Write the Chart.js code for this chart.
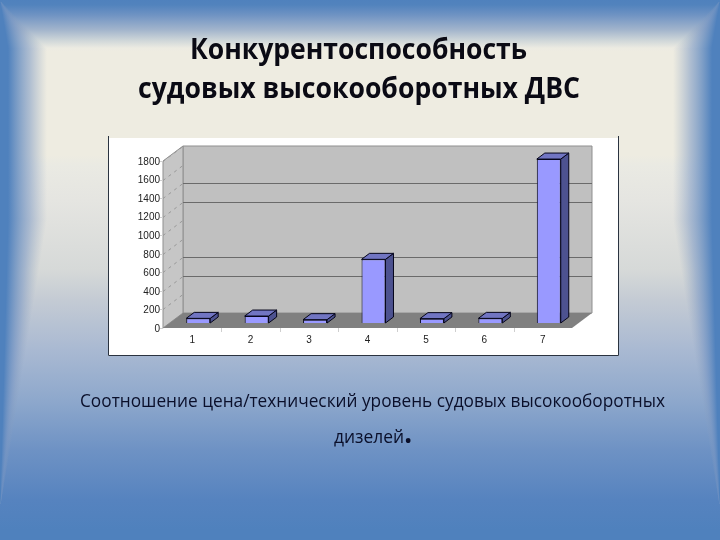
<!DOCTYPE html>
<html lang="ru">
<head>
<meta charset="utf-8">
<title>Конкурентоспособность судовых высокооборотных ДВС</title>
<script src="https://cdn.jsdelivr.net/npm/chart.js@4"></script>
<style>
  html, body { margin: 0; padding: 0; width: 720px; height: 540px; overflow: hidden; background: #4f81bd; }
  #wrap { position: relative; width: 720px; height: 540px; }
  canvas { position: absolute; left: 0; top: 0; }
  .t { position: absolute; white-space: nowrap; color: #0a0a14; transform-origin: 50% 50%; text-align: center; left: 0; width: 720px; }
  .title { font: 700 29px/40px "Open Sans", sans-serif; }
  .cap { font: 400 19px/24px "Open Sans", sans-serif; color: #0a0f2a; }
  .dot { font-size: 30px; font-weight: 700; line-height: 10px; }
</style>
</head>
<body>
<div id="wrap">
  <canvas id="c" width="720" height="540"></canvas>
  <div class="t title" id="t1" style="top:28px">Конкурентоспособность</div>
  <div class="t title" id="t2" style="top:67px">судовых высокооборотных ДВС</div>
  <div class="t cap" id="c1" style="top:388px">Соотношение цена/технический уровень судовых высокооборотных</div>
  <div class="t cap" id="c2" style="top:424px">дизелей<span class="dot">.</span></div>
</div>
<script>
const categories = ['1', '2', '3', '4', '5', '6', '7'];
const seriesValues = [50, 75, 36, 686, 47, 50, 1767];
const yTickValues = [0, 200, 400, 600, 800, 1000, 1200, 1400, 1600, 1800];

const WALL = { dx: 20, dy: -15 };     // depth of the 3D box
const BAR = { dx: 6, dy: -5, sx: 8, sy: -6 }; // bar placement and bar depth
const STRONG = new Set([400, 600, 1200, 1400]);

function poly(ctx, pts, fill, stroke) {
  ctx.beginPath();
  pts.forEach((p, i) => i ? ctx.lineTo(p[0], p[1]) : ctx.moveTo(p[0], p[1]));
  ctx.closePath();
  if (fill) { ctx.fillStyle = fill; ctx.fill(); }
  if (stroke) { ctx.strokeStyle = stroke; ctx.lineWidth = 1; ctx.stroke(); }
}

// Width of the blue side band at a given row of the slide
function bandEnd(y) {
  if (y < 48) return y * 47 / 48;
  if (y < 220) return 47;
  if (y < 400) return 47 - (y - 220) * 29 / 180;
  if (y < 510) return 18 - (y - 400) * 18 / 110;
  return 0;
}

const slidePlugin = {
  id: 'slide',
  beforeDraw(chart) {
    const ctx = chart.ctx, W = 720, H = 540;
    ctx.save();
    const g = ctx.createLinearGradient(0, 0, 0, H);
    [[0, '#4f81bd'], [5, '#5283bd'], [15, '#6f93c3'], [30, '#a3b5cc'], [40, '#cdd5d8'],
     [48, '#ecebe2'], [52, '#eeece1'], [155, '#eeece1'], [165, '#eaeae3'], [200, '#e5e5e1'],
     [270, '#d6d9d8'], [300, '#c4cbd4'], [350, '#a9b9d2'], [400, '#8ea8cc'],
     [450, '#6e92c4'], [500, '#5683bf'], [530, '#4f81bd'], [540, '#4f81bd']]
      .forEach(s => g.addColorStop(s[0] / H, s[1]));
    ctx.fillStyle = g;
    ctx.fillRect(0, 0, W, H);

    for (let y = 0; y < H; y++) {
      const e = bandEnd(y);
      if (e < 1) continue;
      const s = e * 0.17;
      const l = ctx.createLinearGradient(s, 0, e, 0);
      l.addColorStop(0, 'rgba(79,129,189,1)');
      l.addColorStop(0.55, 'rgba(120,150,195,0.55)');
      l.addColorStop(1, 'rgba(140,160,190,0)');
      ctx.fillStyle = l;
      ctx.fillRect(0, y, Math.ceil(e), 1);
      const r = ctx.createLinearGradient(W - s, 0, W - e, 0);
      r.addColorStop(0, 'rgba(79,129,189,1)');
      r.addColorStop(0.55, 'rgba(120,150,195,0.55)');
      r.addColorStop(1, 'rgba(140,160,190,0)');
      ctx.fillStyle = r;
      ctx.fillRect(W - Math.ceil(e), y, Math.ceil(e), 1);
    }

    // white picture box
    ctx.fillStyle = '#ffffff';
    ctx.fillRect(108, 138, 511, 218);
    ctx.strokeStyle = '#2a3340';
    ctx.lineWidth = 1;
    ctx.beginPath();
    ctx.moveTo(108.5, 136); ctx.lineTo(108.5, 355.5); ctx.lineTo(618.5, 355.5); ctx.lineTo(618.5, 136);
    ctx.stroke();
    ctx.restore();
  },
  beforeDatasetsDraw(chart) {
    const ctx = chart.ctx, a = chart.chartArea, y = chart.scales.y;
    const d = WALL;
    ctx.save();
    const L = a.left, R = a.right, T = a.top, B = a.bottom;
    // back wall, side wall, floor
    poly(ctx, [[L + d.dx, T + d.dy], [R + d.dx, T + d.dy], [R + d.dx, B + d.dy], [L + d.dx, B + d.dy]], '#c0c0c0', '#8f8f8f');
    poly(ctx, [[L, T], [L + d.dx, T + d.dy], [L + d.dx, B + d.dy], [L, B]], '#c6c6c6', '#8f8f8f');
    poly(ctx, [[L, B], [L + d.dx, B + d.dy], [R + d.dx, B + d.dy], [R, B]], '#808080', null);
    // grid lines from the library's value scale
    yTickValues.forEach(v => {
      if (v === 0) return;
      const p = Math.round(y.getPixelForValue(v)) + 0.5;
      ctx.lineWidth = 1;
      ctx.setLineDash([]);
      if (STRONG.has(v)) {
        ctx.strokeStyle = '#6a6a6a';
        ctx.beginPath(); ctx.moveTo(L + d.dx, p + d.dy); ctx.lineTo(R + d.dx, p + d.dy); ctx.stroke();
      }
      ctx.setLineDash([3, 4]);
      ctx.strokeStyle = '#989898';
      ctx.beginPath(); ctx.moveTo(L, p); ctx.lineTo(L + d.dx, p + d.dy); ctx.stroke();
    });
    ctx.setLineDash([]);
    // faint axis ticks
    ctx.strokeStyle = '#cfcfcf';
    ctx.beginPath();
    yTickValues.forEach(v => {
      const p = Math.round(y.getPixelForValue(v)) + 0.5;
      ctx.moveTo(L - 3, p); ctx.lineTo(L, p);
    });
    const step = (R - L) / categories.length;
    for (let i = 1; i < categories.length; i++) {
      const px = Math.round(L + i * step) + 0.5;
      ctx.moveTo(px, B); ctx.lineTo(px, B + 4);
    }
    ctx.stroke();
    ctx.restore();
  },
  beforeDatasetDraw(chart, args) {
    const ctx = chart.ctx;
    ctx.save();
    ctx.translate(BAR.dx, BAR.dy);
    chart.getDatasetMeta(args.index).data.forEach(b => {
      const l = b.x - b.width / 2, r = b.x + b.width / 2, t = b.y, u = b.base;
      ctx.lineJoin = 'round';
      poly(ctx, [[r, t], [r + BAR.sx, t + BAR.sy], [r + BAR.sx, u + BAR.sy], [r, u]], '#4d5290', '#05051a');
      poly(ctx, [[l, t], [l + BAR.sx, t + BAR.sy], [r + BAR.sx, t + BAR.sy], [r, t]], '#7175c2', '#05051a');
    });
  },
  afterDatasetDraw(chart) {
    chart.ctx.restore();
  }
};

new Chart(document.getElementById('c'), {
  type: 'bar',
  data: {
    labels: categories,
    datasets: [{
      data: seriesValues,
      backgroundColor: '#9999ff',
      borderColor: '#05051a',
      borderWidth: 1,
      categoryPercentage: 1,
      barPercentage: 0.41,
      clip: false
    }]
  },
  options: {
    responsive: false,
    animation: false,
    devicePixelRatio: 1,
    layout: { padding: { left: 123, right: 148, top: 161, bottom: 182 } },
    plugins: { legend: { display: false }, title: { display: false }, tooltip: { enabled: false } },
    scales: {
      x: {
        grid: { display: false, drawTicks: false },
        border: { display: false },
        ticks: { color: '#222', font: { family: 'Liberation Sans', size: 10 }, padding: 6, maxRotation: 0 },
        afterFit(s) { s.height = 30; }
      },
      y: {
        min: 0,
        max: 1800,
        grid: { display: false, drawTicks: false },
        border: { display: false },
        afterBuildTicks(s) { s.ticks = yTickValues.map(v => ({ value: v })); },
        ticks: {
          color: '#222',
          font: { family: 'Liberation Sans', size: 10 },
          padding: 3,
          labelOffset: 1,
          callback: v => String(v)
        },
        afterFit(s) { s.width = 40; }
      }
    }
  },
  plugins: [slidePlugin]
});

// Fit the text lines to the measured widths of the reference
function fit(id, targetWidth, cx) {
  const el = document.getElementById(id);
  const range = document.createRange();
  range.selectNodeContents(el);
  const w = range.getBoundingClientRect().width;
  el.style.transform = 'translateX(' + (cx - 360) + 'px) scaleX(' + (targetWidth / w) + ')';
}
fit('t1', 337, 358.5);
fit('t2', 442, 359);
fit('c1', 585, 372.5);
fit('c2', 78, 373);
</script>
</body>
</html>
